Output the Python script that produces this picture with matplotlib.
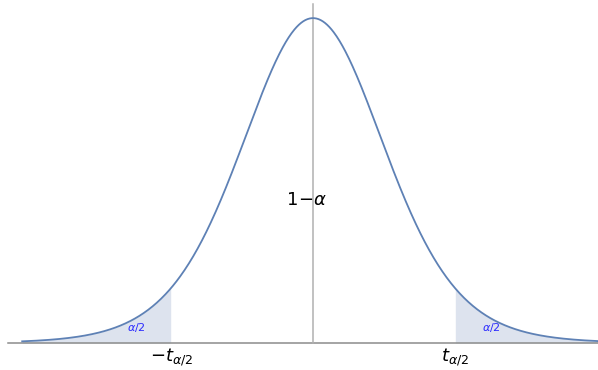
import numpy as np
import matplotlib
matplotlib.use("Agg")
from matplotlib import pyplot as plt
from math import gamma, pi, sqrt

# student t density, critical value and plot ranges
dof = 10
t_crit = 1.953
x_range = (-4.0, 4.0)
tick_pos = [-t_crit, t_crit]
tick_text = [r'$-t_{\alpha/2}$', r'$t_{\alpha/2}$']
tail_text = [r'$\alpha/2$', r'$\alpha/2$']
center_text = r'$1\!-\!\alpha$'

curve_col = '#5E81B5'
fill_col = '#DDE3EE'


def t_pdf(x, v):
    c = gamma((v + 1) / 2) / (sqrt(v * pi) * gamma(v / 2))
    return c * (1 + x ** 2 / v) ** (-(v + 1) / 2)


x = np.linspace(x_range[0], x_range[1], 800)
y = t_pdf(x, dof)

fig = plt.figure(figsize=(5.98, 3.70), dpi=100)
ax = fig.add_axes([0, 0, 1, 1])
ax.set_xlim(-4.305, 3.920)
ax.set_ylim(-0.0323, 0.4108)
ax.axis('off')

# axes lines
ax.plot([-4.195, 4.0], [0, 0], color='#8c8c8c', lw=1.1, zorder=1)
ax.plot([0, 0], [0, 0.4059], color='#b0b0b0', lw=1.1, zorder=1)

# shaded tails
left = x <= -t_crit
right = x >= t_crit
ax.fill_between(x[left], 0, y[left], color=fill_col, lw=0, zorder=0)
ax.fill_between(x[right], 0, y[right], color=fill_col, lw=0, zorder=0)

ax.plot(x, y, color=curve_col, lw=1.3, zorder=2)

# labels
for p, s in zip(tick_pos, tick_text):
    ax.text(p, -0.0035, s, ha='center', va='top', fontsize=13)
for p, s in zip([-2.43, 2.45], tail_text):
    ax.text(p, 0.018, s, ha='center', va='center', fontsize=8, color='#2a2aff')
ax.text(-0.09, 0.171, center_text, ha='center', va='center', fontsize=13)

fig.savefig('out.png', dpi=100)
